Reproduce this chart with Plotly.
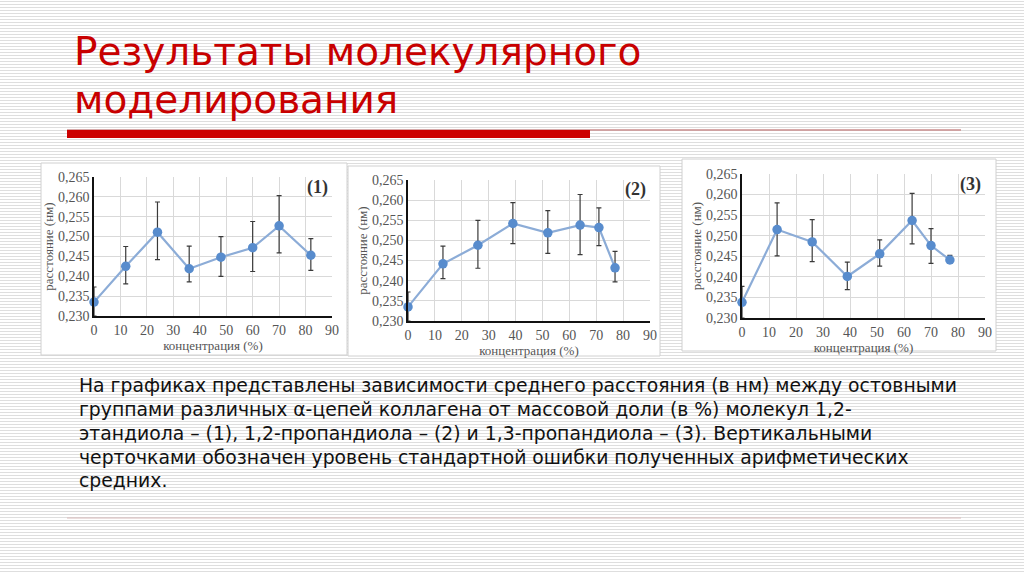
import plotly.graph_objects as go
from plotly.subplots import make_subplots

W, H = 1024, 574

# (1) 1,2-этандиол
conc1 = [0, 12, 24, 36, 48, 60, 70, 82]
dist1 = [0.2335, 0.2425, 0.2511, 0.2419, 0.2448, 0.2472, 0.2527, 0.2453]
top1 = [0.2373, 0.2475, 0.2587, 0.2476, 0.2500, 0.2538, 0.2603, 0.2495]
bot1 = [0.2300, 0.2381, 0.2442, 0.2386, 0.2400, 0.2412, 0.2459, 0.2415]

# (2) 1,2-пропандиол
conc2 = [0, 13, 26, 39, 52, 64, 71, 77]
dist2 = [0.2335, 0.2442, 0.2488, 0.2542, 0.2519, 0.2538, 0.2532, 0.2432]
top2 = [0.2372, 0.2486, 0.2550, 0.2594, 0.2574, 0.2614, 0.2581, 0.2473]
bot2 = [0.2300, 0.2405, 0.2431, 0.2492, 0.2468, 0.2465, 0.2487, 0.2397]

# (3) 1,3-пропандиол
conc3 = [0, 13, 26, 39, 51, 63, 70, 77]
dist3 = [0.2338, 0.2515, 0.2485, 0.2401, 0.2456, 0.2537, 0.2476, 0.2441]
top3 = [0.2377, 0.2580, 0.2539, 0.2436, 0.2490, 0.2603, 0.2517, 0.2452]
bot3 = [0.2300, 0.2451, 0.2437, 0.2369, 0.2426, 0.2480, 0.2433, 0.2437]

panel_labels = ["(1)", "(2)", "(3)"]
title_lines = ["Результаты молекулярного", "моделирования"]
body_lines = [
    "На графиках представлены зависимости среднего расстояния (в нм) между остовными",
    "группами различных α-цепей коллагена от массовой доли (в %) молекул 1,2-",
    "этандиола – (1), 1,2-пропандиола – (2) и 1,3-пропандиола – (3). Вертикальными",
    "черточками обозначен уровень стандартной ошибки полученных арифметических",
    "средних.",
]

# pixel boxes: plot areas and the white picture frames around them
plot_px = [(94, 332, 177, 316), (408, 650, 180, 321), (742, 985, 174, 318)]
frame_px = [(41, 347, 163, 355), (348, 660, 166, 356), (682, 996, 159, 351)]


def px_x(v):
    return v / W


def px_y(v):
    return 1 - v / H


fig = make_subplots(rows=1, cols=3)

series = [(conc1, dist1, top1, bot1), (conc2, dist2, top2, bot2), (conc3, dist3, top3, bot3)]
for i, (cx, cy, ct, cb) in enumerate(series):
    up = [t - m for t, m in zip(ct, cy)]
    down = [m - b for m, b in zip(cy, cb)]
    fig.add_trace(go.Scatter(
        x=cx, y=cy, mode="lines+markers", cliponaxis=False,
        line=dict(color="rgb(140,172,215)", width=2.2),
        marker=dict(color="rgb(88,140,205)", size=9.5),
        error_y=dict(type="data", symmetric=False, array=up, arrayminus=down,
                     color="#3a3a3a", thickness=1.2, width=2.5),
        showlegend=False,
    ), row=1, col=i + 1)

serif = "Liberation Serif"
for i in range(3):
    x0, x1, y0, y1 = plot_px[i]
    n = "" if i == 0 else str(i + 1)
    fig.layout["xaxis" + n].update(
        domain=[px_x(x0), px_x(x1)], range=[0, 90], dtick=10, automargin=False,
        showgrid=True, gridcolor="#d9d9d9", gridwidth=1,
        showline=True, linecolor="#111", linewidth=1.5, zeroline=False,
        tickfont=dict(family=serif, size=14, color="#555"), ticks="",
        title=dict(text="концентрация (%)", standoff=1,
                   font=dict(family=serif, size=13, color="#555")),
    )
    fig.layout["yaxis" + n].update(
        domain=[px_y(y1), px_y(y0)], range=[0.230, 0.265], dtick=0.005,
        tickformat=".3f", automargin=False,
        showgrid=True, gridcolor="#d9d9d9", gridwidth=1,
        showline=True, linecolor="#111", linewidth=1.5, zeroline=False,
        tickfont=dict(family=serif, size=14, color="#555"), ticks="",
        title=dict(text="расстояние (нм)", standoff=1,
                   font=dict(family=serif, size=13, color="#555")),
    )
    fig.add_annotation(
        x=px_x(x1 - 2), y=px_y(y0 + 10), xref="paper", yref="paper",
        text="<b>" + panel_labels[i] + "</b>", showarrow=False,
        xanchor="right", yanchor="middle",
        font=dict(family=serif, size=18, color="#333"),
    )

# striped slide background
path = ""
for k in range(0, H // 3 + 1):
    yy = px_y(3 * k + 1.5)
    path += "M0,%.5f L1,%.5f " % (yy, yy)
shapes = [dict(type="path", path=path, xref="paper", yref="paper",
               line=dict(color="#dedede", width=1), layer="below")]
for fx0, fx1, fy0, fy1 in frame_px:
    shapes.append(dict(type="rect", xref="paper", yref="paper",
                       x0=px_x(fx0), x1=px_x(fx1), y0=px_y(fy1), y1=px_y(fy0),
                       fillcolor="white", line=dict(color="#d0d0d0", width=1),
                       layer="below"))
# red rule under the title and the thin lines
shapes.append(dict(type="line", xref="paper", yref="paper",
                   x0=px_x(67), x1=px_x(961), y0=px_y(130), y1=px_y(130),
                   line=dict(color="rgb(200,140,140)", width=1.5)))
shapes.append(dict(type="rect", xref="paper", yref="paper",
                   x0=px_x(67), x1=px_x(590), y0=px_y(138), y1=px_y(130),
                   fillcolor="#cc0000", line=dict(width=0)))
shapes.append(dict(type="line", xref="paper", yref="paper",
                   x0=px_x(67), x1=px_x(961), y0=px_y(518), y1=px_y(518),
                   line=dict(color="rgb(215,185,185)", width=1.2)))

title_y = [51, 99]
for t, ty in zip(title_lines, title_y):
    fig.add_annotation(x=px_x(72), y=px_y(ty), xref="paper", yref="paper",
                       text=t, showarrow=False, xanchor="left", yanchor="middle",
                       font=dict(family="DejaVu Sans", size=39, color="#c80000"))

body_y = [385, 409, 433, 457, 480]
for t, ty in zip(body_lines, body_y):
    fig.add_annotation(x=px_x(77), y=px_y(ty), xref="paper", yref="paper",
                       text=t, showarrow=False, xanchor="left", yanchor="middle",
                       font=dict(family="DejaVu Sans", size=18.8, color="#111"))

fig.update_layout(
    width=W, height=H, margin=dict(l=0, r=0, t=0, b=0, autoexpand=False),
    paper_bgcolor="white", plot_bgcolor="white",
    separators=", ", shapes=shapes,
)

# drop the browser's default page margin so the slide sits at the top-left corner
fig.write_html("out.html", config={"displayModeBar": False},
               post_script="document.body.style.margin = '0';")
